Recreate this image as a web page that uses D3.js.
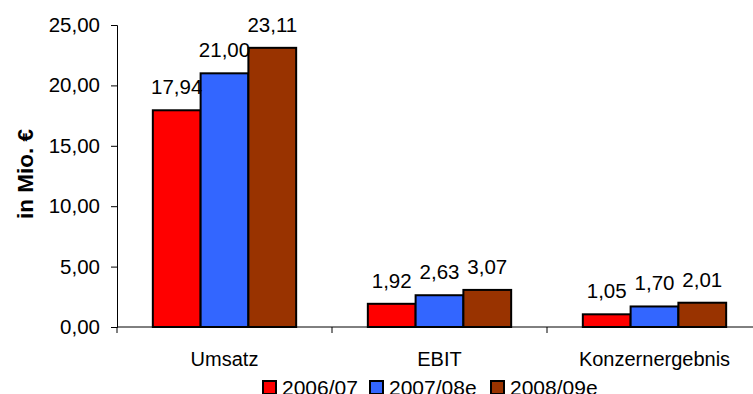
<!DOCTYPE html>
<html>
<head>
<meta charset="utf-8">
<script src="https://cdn.jsdelivr.net/npm/d3@7/dist/d3.min.js"></script>
<style>
  html, body { margin: 0; padding: 0; background: #fff; }
  svg { display: block; font-family: "Liberation Sans", Arial, sans-serif; }
</style>
</head>
<body>
<svg id="chart" width="753" height="394"></svg>
<script>
// Key figures per category and fiscal year
const categories = ["Umsatz", "EBIT", "Konzernergebnis"];
const seriesNames = ["2006/07", "2007/08e", "2008/09e"];
const values2006 = [17.94, 1.92, 1.05];
const values2007 = [21.00, 2.63, 1.70];
const values2008 = [23.11, 3.07, 2.01];
const yTicks = [0, 5, 10, 15, 20, 25];
const colors = ["#FF0000", "#3366FF", "#993300"];

const seriesValues = [values2006, values2007, values2008];
const fmt = v => d3.format(".2f")(v).replace(".", ",");

const svg = d3.select("#chart");
const plotLeft = 117, plotRight = 762, plotTop = 25, plotBottom = 327;

const x0 = d3.scaleBand().domain(categories).range([plotLeft, plotRight]).paddingInner(0).paddingOuter(0);
const bandW = x0.bandwidth();
// bars fill 3 / 4.5 of each category (gap of 1.5 bar widths)
const groupW = bandW * 3 / 4.5;
const x1 = d3.scaleBand().domain(seriesNames).range([0, groupW]).padding(0);
const y = d3.scaleLinear().domain([0, 25]).range([plotBottom, plotTop]);

// y axis
const yAxis = d3.axisLeft(y).tickValues(yTicks).tickSize(6).tickPadding(11).tickFormat(fmt);
const gy = svg.append("g").attr("transform", `translate(${plotLeft},0)`).call(yAxis);
gy.select(".domain").attr("stroke", "#000").attr("stroke-width", 1);
gy.selectAll(".tick line").attr("stroke", "#000");
gy.selectAll(".tick text").attr("fill", "#000").style("font-size", "20.5px")
  .style("font-family", "Liberation Sans, Arial, sans-serif");

// x axis with ticks between categories
const xAxisLine = svg.append("g");
xAxisLine.append("line").attr("x1", plotLeft).attr("x2", plotRight).attr("y1", plotBottom).attr("y2", plotBottom)
  .attr("stroke", "#000");
const boundaries = categories.map(c => x0(c)).concat([plotRight]);
xAxisLine.selectAll("line.tk").data(boundaries).enter().append("line").attr("class", "tk")
  .attr("x1", d => d).attr("x2", d => d).attr("y1", plotBottom).attr("y2", plotBottom + 6)
  .attr("stroke", "#000");
xAxisLine.selectAll("text").data(categories).enter().append("text")
  .attr("x", d => x0(d) + bandW / 2).attr("y", 365.5)
  .attr("text-anchor", "middle").style("font-size", "20px").attr("fill", "#000")
  .text(d => d);

// bars
const groups = svg.selectAll("g.cat").data(categories).enter().append("g")
  .attr("class", "cat")
  .attr("transform", d => `translate(${x0(d) + (bandW - groupW) / 2},0)`);

groups.each(function (cat, ci) {
  const g = d3.select(this);
  const data = seriesNames.map((s, si) => ({ s, si, v: seriesValues[si][ci] }));
  g.selectAll("rect").data(data).enter().append("rect")
    .attr("x", d => x1(d.s))
    .attr("y", d => y(d.v))
    .attr("width", x1.bandwidth())
    .attr("height", d => y(0) - y(d.v))
    .attr("fill", d => colors[d.si])
    .attr("stroke", "#000").attr("stroke-width", 2);
  g.selectAll("text").data(data).enter().append("text")
    .attr("x", d => x1(d.s) + x1.bandwidth() / 2)
    .attr("y", d => y(d.v) - 16)
    .attr("text-anchor", "middle").style("font-size", "20.5px").attr("fill", "#000")
    .text(d => fmt(d.v));
});

// y axis title
svg.append("text")
  .attr("transform", "translate(33,174) rotate(-90)")
  .attr("text-anchor", "middle").style("font-size", "22.5px").style("font-weight", "bold")
  .attr("fill", "#000").text("in Mio. €");

// legend
const legendX = [263, 370, 491];
const lg = svg.selectAll("g.leg").data(seriesNames).enter().append("g")
  .attr("class", "leg").attr("transform", (d, i) => `translate(${legendX[i]},0)`);
lg.append("rect").attr("x", 0).attr("y", 381).attr("width", 13).attr("height", 13)
  .attr("fill", (d, i) => colors[i]).attr("stroke", "#000").attr("stroke-width", 2);
lg.append("text").attr("x", 19).attr("y", 395).style("font-size", "21px").attr("fill", "#000")
  .text(d => d);
</script>
</body>
</html>
